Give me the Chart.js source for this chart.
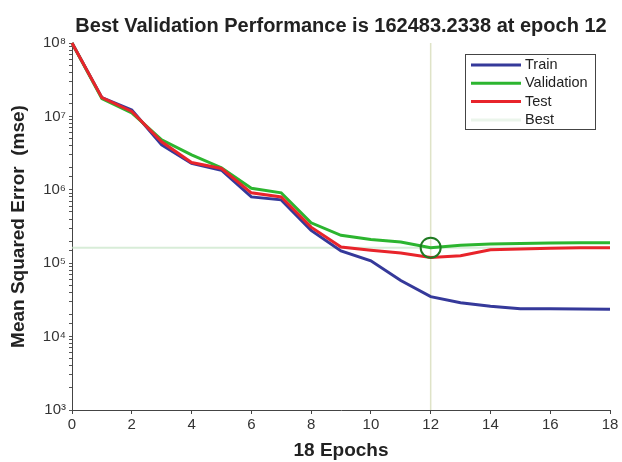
<!DOCTYPE html>
<html>
<head>
<meta charset="utf-8">
<script src="https://cdn.jsdelivr.net/npm/chart.js@4/dist/chart.umd.min.js"></script>
<style>
  html, body { margin: 0; padding: 0; background: #fff; }
  #wrap { width: 622px; height: 462px; }
</style>
</head>
<body>
<div id="wrap"><canvas id="perf"></canvas></div>
<script>
const epochs = [0, 1, 2, 3, 4, 5, 6, 7, 8, 9, 10, 11, 12, 13, 14, 15, 16, 17, 18];
const trainMse = [1e8, 1.8e7, 1.22e7, 4.1e6, 2.3e6, 1.85e6, 8e5, 7.3e5, 2.8e5, 1.47e5, 1.08e5, 5.8e4, 3.5e4, 2.9e4, 2.6e4, 2.4e4, 2.4e4, 2.37e4, 2.35e4];
const validationMse = [1e8, 1.75e7, 1.12e7, 4.8e6, 3e6, 2e6, 1.05e6, 9.1e5, 3.55e5, 2.4e5, 2.1e5, 1.95e5, 1.62e5, 1.76e5, 1.82e5, 1.86e5, 1.88e5, 1.9e5, 1.9e5];
const testMse = [1e8, 1.8e7, 1.17e7, 4.5e6, 2.35e6, 1.95e6, 9.1e5, 8e5, 3.1e5, 1.66e5, 1.5e5, 1.38e5, 1.2e5, 1.26e5, 1.52e5, 1.56e5, 1.6e5, 1.62e5, 1.62e5];
const bestEpoch = 12;
const bestPerf = 162483.2338;
const yTickPowers = [3, 4, 5, 6, 7, 8];
const legendNames = ['Train', 'Validation', 'Test', 'Best'];

const FONT = '"Liberation Sans", Arial, sans-serif';
const SUP = { '0': '\u2070', '1': '\u00b9', '2': '\u00b2', '3': '\u00b3', '4': '\u2074', '5': '\u2075', '6': '\u2076', '7': '\u2077', '8': '\u2078', '9': '\u2079' };

function points(values) {
  return epochs.map((e, i) => ({ x: e, y: values[i] }));
}

// legend box drawn inside the plot, like matlab's
const insideLegend = {
  id: 'insideLegend',
  afterDatasetsDraw(chart) {
    const ctx = chart.ctx;
    const area = chart.chartArea;
    const x0 = area.right - 145, y0 = area.top + 11, w = 130, h = 75;
    ctx.save();
    ctx.fillStyle = '#fff';
    ctx.fillRect(x0, y0, w, h);
    ctx.strokeStyle = '#444';
    ctx.lineWidth = 1;
    ctx.strokeRect(x0 + 0.5, y0 + 0.5, w, h);
    ctx.font = '14.5px ' + FONT;
    ctx.textBaseline = 'middle';
    const colors = ['#35399a', '#2cb52f', '#e8242b', 'rgba(215,235,215,0.5)'];
    legendNames.forEach((name, i) => {
      const y = y0 + 11 + i * 18.3;
      ctx.strokeStyle = colors[i];
      ctx.lineWidth = 3;
      ctx.beginPath();
      ctx.moveTo(x0 + 6, y);
      ctx.lineTo(x0 + 56, y);
      ctx.stroke();
      ctx.fillStyle = '#222';
      ctx.fillText(name, x0 + 60, y);
    });
    ctx.restore();
  },
};

new Chart(document.getElementById('perf'), {
  type: 'line',
  data: {
    datasets: [
      {
        label: 'BestH',
        data: [{ x: epochs[0], y: bestPerf }, { x: epochs[epochs.length - 1], y: bestPerf }],
        borderColor: 'rgba(200,230,200,0.7)',
        borderWidth: 2,
        pointRadius: 0,
        order: 5,
      },
      {
        label: 'BestV',
        data: [{ x: bestEpoch, y: Math.pow(10, yTickPowers[0]) }, { x: bestEpoch, y: Math.pow(10, yTickPowers[yTickPowers.length - 1]) }],
        borderColor: 'rgba(215,220,185,0.8)',
        borderWidth: 1.5,
        pointRadius: 0,
        order: 4,
      },
      {
        label: 'Train',
        data: points(trainMse),
        borderColor: '#35399a',
        borderWidth: 3,
        pointRadius: 0,
        clip: 4,
        order: 3,
      },
      {
        label: 'Validation',
        data: points(validationMse),
        borderColor: '#2cb52f',
        borderWidth: 3,
        pointRadius: 0,
        clip: 4,
        order: 2,
      },
      {
        label: 'Test',
        data: points(testMse),
        borderColor: '#e8242b',
        borderWidth: 3,
        pointRadius: 0,
        clip: 4,
        order: 1,
      },
      {
        label: 'Best',
        data: [{ x: bestEpoch, y: bestPerf }],
        showLine: false,
        pointRadius: 10,
        pointBorderWidth: 2,
        pointBorderColor: '#1f7a22',
        pointBackgroundColor: 'rgba(0,0,0,0)',
        clip: false,
        order: 0,
      },
    ],
  },
  options: {
    responsive: true,
    maintainAspectRatio: false,
    animation: false,
    layout: { padding: { left: 7, right: 10, top: 0, bottom: 0 } },
    plugins: {
      legend: { display: false },
      tooltip: { enabled: false },
      title: {
        display: true,
        fullSize: false,
        text: 'Best Validation Performance is ' + bestPerf.toFixed(4) + ' at epoch ' + bestEpoch,
        color: '#222',
        font: { family: FONT, size: 20, weight: 'bold' },
        padding: { top: 14, bottom: 5 },
      },
    },
    scales: {
      x: {
        type: 'linear',
        min: 0,
        max: 18,
        ticks: {
          stepSize: 2,
          color: '#333',
          font: { family: FONT, size: 15 },
          padding: 2,
        },
        grid: { drawOnChartArea: false, tickLength: 4, color: '#444' },
        border: { display: true, color: '#444', width: 1 },
        title: {
          display: true,
          text: '18 Epochs',
          color: '#222',
          font: { family: FONT, size: 19, weight: 'bold' },
          padding: { top: 0, bottom: 0 },
        },
        afterFit(scale) { scale.height = 52; },
      },
      y: {
        type: 'logarithmic',
        min: Math.pow(10, yTickPowers[0]),
        max: Math.pow(10, yTickPowers[yTickPowers.length - 1]),
        ticks: {
          autoSkip: false,
          color: '#333',
          font: { family: FONT, size: 15 },
          padding: 3,
          callback(value) {
            const p = Math.log10(value);
            if (Math.abs(p - Math.round(p)) > 1e-9) return '';
            return '10' + String(Math.round(p)).split('').map((d) => SUP[d]).join('');
          },
        },
        grid: { drawOnChartArea: false, tickLength: 3, color: '#555' },
        border: { display: true, color: '#444', width: 1 },
        title: {
          display: true,
          text: 'Mean Squared Error  (mse)',
          color: '#222',
          font: { family: FONT, size: 19, weight: 'bold' },
          padding: { top: 0, bottom: 0 },
        },
        afterFit(scale) { scale.width = 65; },
      },
    },
  },
  plugins: [insideLegend],
});
</script>
</body>
</html>
